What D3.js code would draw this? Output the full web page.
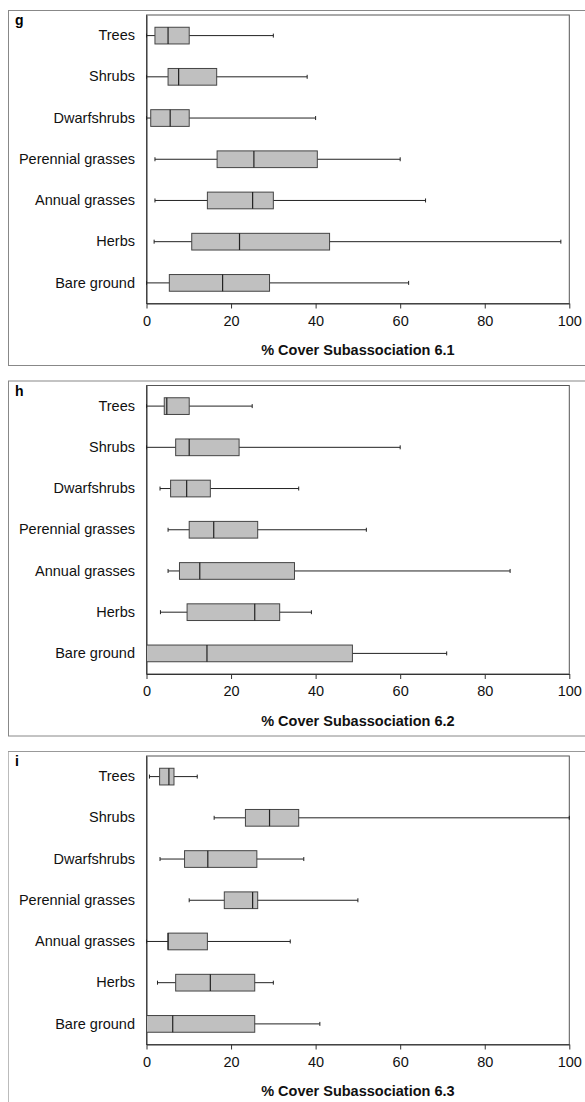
<!DOCTYPE html>
<html>
<head>
<meta charset="utf-8">
<script src="https://cdn.jsdelivr.net/npm/d3@7"></script>
<style>
  body { margin: 0; background: #fff; }
  svg { display: block; }
  text { font-family: "Liberation Sans", Arial, sans-serif; }
</style>
</head>
<body>
<svg id="chart"></svg>
<script>
// Constants
const width = 585;
const height = 1102;

// Data
const categories = ["Trees", "Shrubs", "Dwarfshrubs", "Perennial grasses", "Annual grasses", "Herbs", "Bare ground"];
const xTicks = [0, 20, 40, 60, 80, 100];
const panelLetters = ["g", "h", "i"];
const panelTitles = ["% Cover Subassociation 6.1", "% Cover Subassociation 6.2", "% Cover Subassociation 6.3"];

// [min, q1, median, q3, max] for each category
const stats61 = [
  [0, 2, 5.1, 10.1, 30],
  [0, 5.1, 7.6, 16.6, 38],
  [0, 1, 5.6, 10.1, 40],
  [2, 16.7, 25.4, 40.4, 60],
  [2, 14.4, 25.1, 30, 66],
  [1.8, 10.7, 22, 43.3, 98],
  [0, 5.4, 18, 29.1, 62]
];
const stats62 = [
  [0, 4.2, 4.8, 10.1, 25],
  [0, 6.9, 10.1, 21.9, 60],
  [3.2, 5.7, 9.5, 15.1, 36],
  [5.1, 10.1, 15.9, 26.3, 52],
  [5.1, 7.8, 12.6, 35, 86],
  [3.3, 9.6, 25.6, 31.5, 39],
  [0, 0, 14.3, 48.7, 71]
];
const stats63 = [
  [0.7, 3.1, 5.3, 6.5, 12],
  [16, 23.4, 29.1, 36, 100],
  [3.2, 9, 14.5, 26.1, 37.2],
  [10.1, 18.4, 25.1, 26.3, 50],
  [0, 5.1, 5.1, 14.4, 34],
  [2.6, 6.9, 15.1, 25.6, 30],
  [0, 0, 6.2, 25.6, 41]
];
const panelStats = [stats61, stats62, stats63];

// Layout
const panelStep = 370.5;
const frame = { left: 8, top: 10, height: 355 };
const plot = { left: 146.5, right: 569.3, top: 5, bottom: 293.5 };
const boxHeight = 16.7;
const capHeight = 4;

const svg = d3.select("#chart")
  .attr("width", width)
  .attr("height", height)
  .attr("viewBox", [0, 0, width, height]);

const x = d3.scaleLinear().domain([0, 100]).range([plot.left, plot.right]);
const y = d3.scaleBand().domain(categories).range([plot.top, plot.bottom]).padding(0);

function drawPanel(i) {
  const stats = panelStats[i];
  const g = svg.append("g")
    .attr("transform", `translate(0,${frame.top + i * panelStep})`);

  // outer frame
  g.append("rect")
    .attr("x", frame.left + 0.5)
    .attr("y", 0.5)
    .attr("width", width + 20)
    .attr("height", frame.height)
    .attr("fill", "none")
    .attr("stroke", i === 2 ? "#bbb" : "#888")
    .attr("stroke-width", 1);
  if (i === 2) {
    g.append("line")
      .attr("x1", frame.left).attr("x2", width)
      .attr("y1", 0.5).attr("y2", 0.5)
      .attr("stroke", "#999");
  }

  // panel letter
  g.append("text")
    .attr("x", 15)
    .attr("y", 15)
    .attr("font-size", 14)
    .attr("font-weight", "bold")
    .text(panelLetters[i]);

  // plot box
  g.append("rect")
    .attr("x", plot.left)
    .attr("y", plot.top)
    .attr("width", plot.right - plot.left)
    .attr("height", plot.bottom - plot.top)
    .attr("fill", "none")
    .attr("stroke", "#555")
    .attr("stroke-width", 1);

  // x axis
  const xAxis = g.append("g")
    .attr("transform", `translate(0,${plot.bottom})`)
    .call(d3.axisBottom(x).tickValues(xTicks).tickSize(5).tickPadding(7).tickSizeOuter(0));
  xAxis.select(".domain").attr("stroke", "#333");
  xAxis.selectAll(".tick line").attr("stroke", "#333");
  xAxis.selectAll(".tick text")
    .attr("font-size", 14.5)
    .attr("font-family", "Liberation Sans, Arial, sans-serif")
    .attr("fill", "#111");

  // y axis labels
  const yAxis = g.append("g")
    .attr("transform", `translate(${plot.left},0)`)
    .call(d3.axisLeft(y).tickSize(0).tickPadding(11.5));
  yAxis.select(".domain").attr("stroke", "#333");
  yAxis.selectAll(".tick text")
    .attr("font-size", 14.5)
    .attr("font-family", "Liberation Sans, Arial, sans-serif")
    .attr("fill", "#111");

  // axis title
  g.append("text")
    .attr("x", (plot.left + plot.right) / 2)
    .attr("y", 340)
    .attr("dy", "0.35em")
    .attr("text-anchor", "middle")
    .attr("font-size", 14.5)
    .attr("font-weight", "bold")
    .attr("fill", "#111")
    .text(panelTitles[i]);

  const rows = categories.map((c, k) => ({ cat: c, s: stats[k] }));
  const cy = d => y(d.cat) + y.bandwidth() / 2;

  const box = g.append("g").selectAll("g")
    .data(rows)
    .join("g");

  // whisker line
  box.append("line")
    .attr("x1", d => x(d.s[0])).attr("x2", d => x(d.s[4]))
    .attr("y1", cy).attr("y2", cy)
    .attr("stroke", "#222").attr("stroke-width", 1);

  // whisker caps
  box.selectAll(".cap")
    .data(d => [d.s[0], d.s[4]].map(v => ({ v, yc: cy(d) })))
    .join("line")
      .attr("class", "cap")
      .attr("x1", d => x(d.v)).attr("x2", d => x(d.v))
      .attr("y1", d => d.yc - capHeight / 2).attr("y2", d => d.yc + capHeight / 2)
      .attr("stroke", "#222").attr("stroke-width", 1);

  // box
  box.append("rect")
    .attr("x", d => x(d.s[1]))
    .attr("y", d => cy(d) - boxHeight / 2)
    .attr("width", d => x(d.s[3]) - x(d.s[1]))
    .attr("height", boxHeight)
    .attr("fill", "#c0c0c0")
    .attr("stroke", "#444")
    .attr("stroke-width", 1);

  // median
  box.append("line")
    .attr("x1", d => x(d.s[2])).attr("x2", d => x(d.s[2]))
    .attr("y1", d => cy(d) - boxHeight / 2).attr("y2", d => cy(d) + boxHeight / 2)
    .attr("stroke", "#222").attr("stroke-width", 1.2);
}

panelLetters.forEach((_, i) => drawPanel(i));
</script>
</body>
</html>
